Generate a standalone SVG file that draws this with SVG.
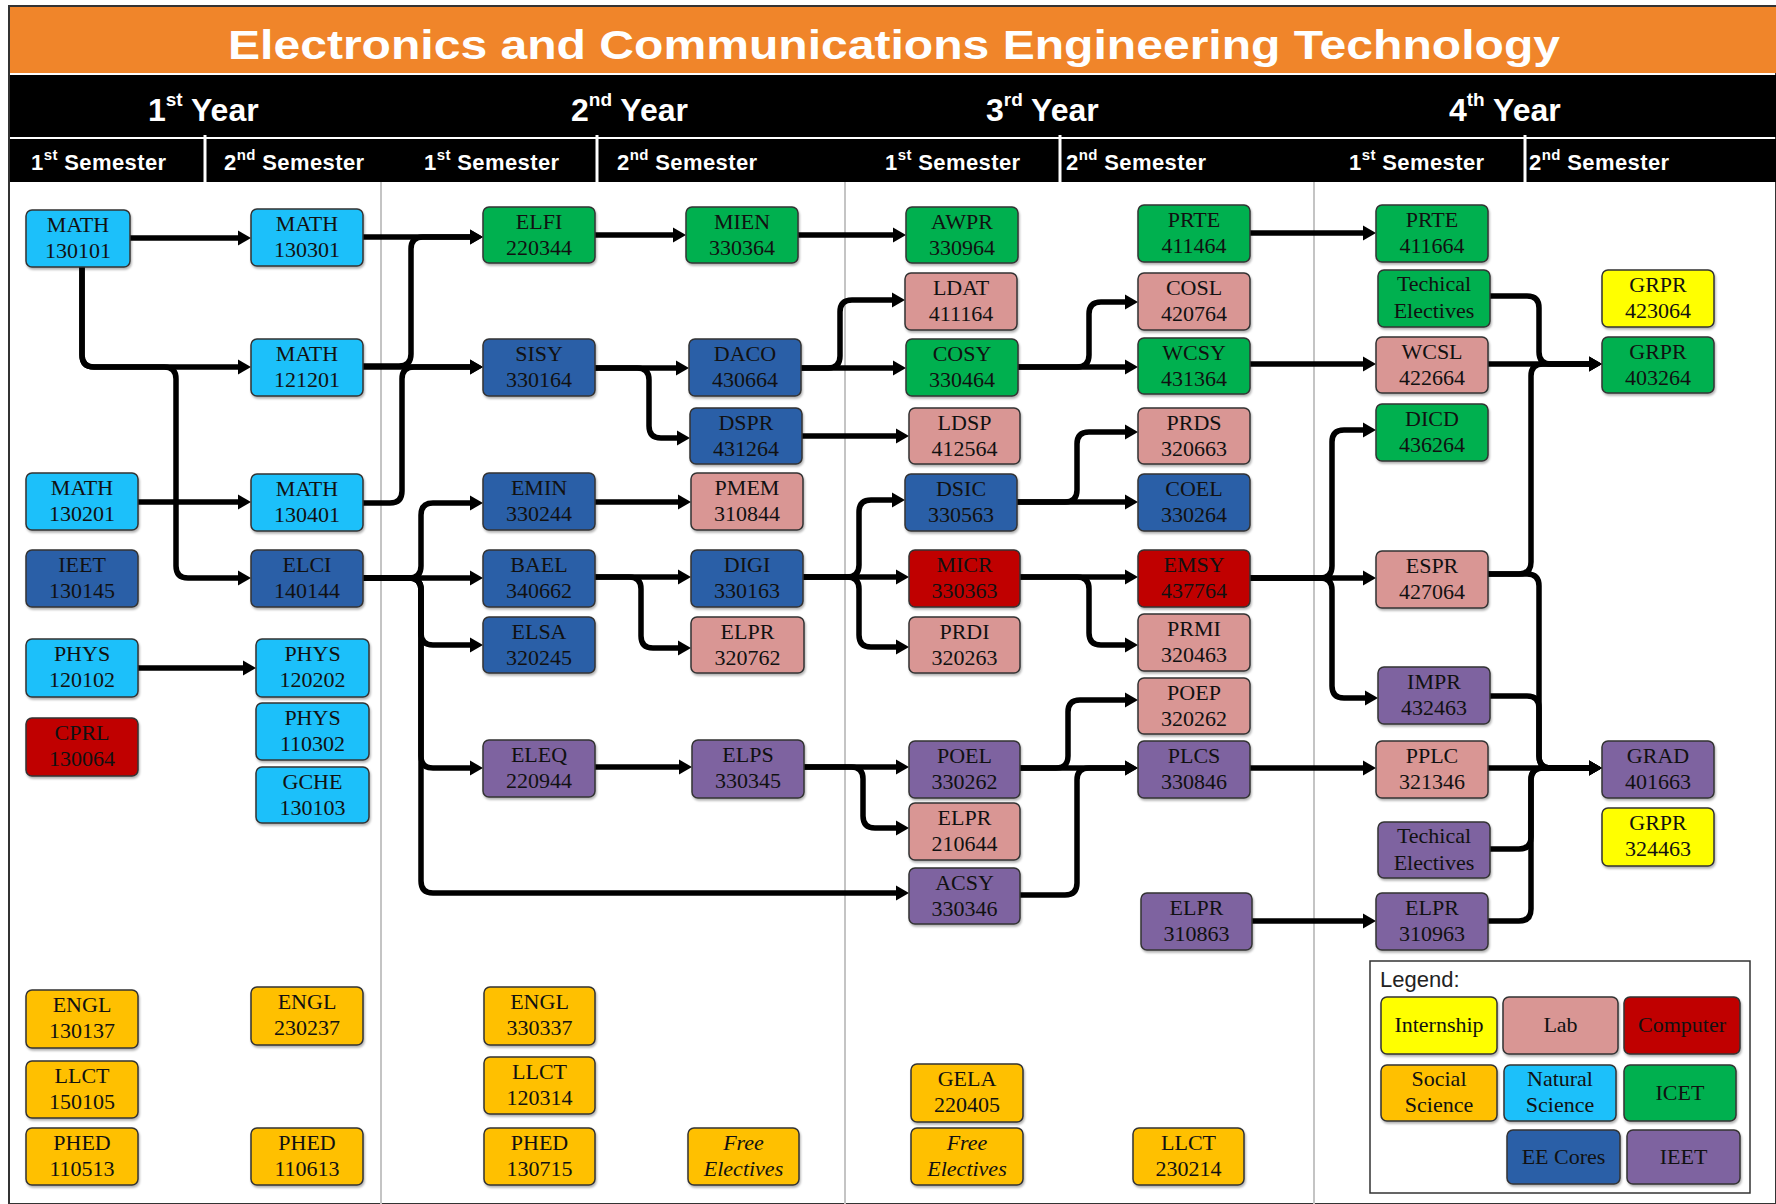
<svg xmlns="http://www.w3.org/2000/svg" width="1776" height="1204" viewBox="0 0 1776 1204">
<defs>
<style>
.node rect{stroke:#333;stroke-width:1.5;filter:url(#sh)}
.ns{fill:#1CC0FA}.ic{fill:#00B050}.ee{fill:#2B5EA7}.ie{fill:#7E64A0}.lb{fill:#D99694}.cp{fill:#C00000}.in{fill:#FFFF00}.ss{fill:#FFC000}
.node text,.leg text{font-family:"Liberation Serif","Times New Roman",serif;font-size:22px;fill:#111;text-anchor:middle}
.it{font-style:italic}
.conn path{fill:none;stroke:#000;stroke-width:5.5;stroke-linejoin:round;marker-end:url(#arr)}
.yr{font-family:"Liberation Sans",Arial,sans-serif;font-size:32px;font-weight:bold;fill:#fff}
.sem{font-family:"Liberation Sans",Arial,sans-serif;font-size:22px;font-weight:bold;fill:#fff;letter-spacing:0.4px}
</style>
<filter id="sh" x="-10%" y="-10%" width="130%" height="140%"><feDropShadow dx="1" dy="2" stdDeviation="1" flood-color="#000" flood-opacity="0.3"/></filter>
<marker id="arr" markerUnits="userSpaceOnUse" markerWidth="14" markerHeight="16" refX="5" refY="8" orient="auto"><path d="M0,0.5 L13,8 L0,15.5 z" fill="#000"/></marker>
</defs>
<rect x="0" y="0" width="1776" height="1204" fill="#fff"/>
<!-- header -->
<g id="header">
<rect x="9" y="6" width="1767" height="1198" fill="none" stroke="#333" stroke-width="2"/>
<rect x="10" y="7" width="1766" height="66" fill="#F0852A"/>
<text x="894" y="59" text-anchor="middle" textLength="1332" lengthAdjust="spacingAndGlyphs" font-family="'Liberation Sans',Arial,sans-serif" font-size="40" font-weight="bold" fill="#fff">Electronics and Communications Engineering Technology</text>
<rect x="10" y="75" width="1766" height="62" fill="#000"/>
<rect x="10" y="139" width="1766" height="43" fill="#000"/>
<g stroke="#fff" stroke-width="3">
<line x1="205" y1="135" x2="205" y2="182"/><line x1="597" y1="135" x2="597" y2="182"/><line x1="1060" y1="135" x2="1060" y2="182"/><line x1="1525" y1="135" x2="1525" y2="182"/>
</g>
<text class="yr" x="148" y="121">1<tspan font-size="19" dy="-15">st</tspan><tspan dy="15"> Year</tspan></text>
<text class="yr" x="571" y="121">2<tspan font-size="19" dy="-15">nd</tspan><tspan dy="15"> Year</tspan></text>
<text class="yr" x="986" y="121">3<tspan font-size="19" dy="-15">rd</tspan><tspan dy="15"> Year</tspan></text>
<text class="yr" x="1449" y="121">4<tspan font-size="19" dy="-15">th</tspan><tspan dy="15"> Year</tspan></text>
<text class="sem" x="31" y="170">1<tspan font-size="15" dy="-10">st</tspan><tspan dy="10"> Semester</tspan></text>
<text class="sem" x="224" y="170">2<tspan font-size="15" dy="-10">nd</tspan><tspan dy="10"> Semester</tspan></text>
<text class="sem" x="424" y="170">1<tspan font-size="15" dy="-10">st</tspan><tspan dy="10"> Semester</tspan></text>
<text class="sem" x="617" y="170">2<tspan font-size="15" dy="-10">nd</tspan><tspan dy="10"> Semester</tspan></text>
<text class="sem" x="885" y="170">1<tspan font-size="15" dy="-10">st</tspan><tspan dy="10"> Semester</tspan></text>
<text class="sem" x="1066" y="170">2<tspan font-size="15" dy="-10">nd</tspan><tspan dy="10"> Semester</tspan></text>
<text class="sem" x="1349" y="170">1<tspan font-size="15" dy="-10">st</tspan><tspan dy="10"> Semester</tspan></text>
<text class="sem" x="1529" y="170">2<tspan font-size="15" dy="-10">nd</tspan><tspan dy="10"> Semester</tspan></text>
</g>
<g id="grid" stroke="#C4C4C4" stroke-width="2">
<line x1="381" y1="182" x2="381" y2="1204"/><line x1="845" y1="182" x2="845" y2="1204"/><line x1="1314" y1="182" x2="1314" y2="1204"/>
</g>

<!-- connectors -->
<g id="connectors" class="conn">
<path d="M130,238 H243"/>
<path d="M82,267 V355 Q82,367 94,367 H243"/>
<path d="M82,267 V355 Q82,367 94,367 H164 Q176,367 176,379 V566 Q176,578 188,578 H243"/>
<path d="M363,237 H475"/>
<path d="M363,366 H399 Q411,366 411,354 V249 Q411,237 423,237 H475"/>
<path d="M363,367 H475"/>
<path d="M138,502 H243"/>
<path d="M363,503 H390 Q402,503 402,491 V379 Q402,367 414,367 H475"/>
<path d="M363,578 H475"/>
<path d="M363,578 H409 Q421,578 421,566 V515 Q421,503 433,503 H475"/>
<path d="M363,578 H409 Q421,578 421,590 V633 Q421,645 433,645 H475"/>
<path d="M363,578 H409 Q421,578 421,590 V756 Q421,768 433,768 H475"/>
<path d="M363,578 H409 Q421,578 421,590 V881 Q421,893 433,893 H901"/>
<path d="M138,668 H248"/>
<path d="M595,235 H678"/>
<path d="M798,235 H898"/>
<path d="M595,368 H681"/>
<path d="M595,368 H637 Q649,368 649,380 V426 Q649,438 661,438 H682"/>
<path d="M801,368 H898"/>
<path d="M801,368 H828 Q840,368 840,356 V312 Q840,300 852,300 H897"/>
<path d="M802,436 H901"/>
<path d="M595,502 H683"/>
<path d="M595,577 H683"/>
<path d="M595,577 H629 Q641,577 641,589 V636 Q641,648 653,648 H683"/>
<path d="M803,577 H901"/>
<path d="M803,577 H847 Q859,577 859,565 V512 Q859,500 871,500 H897"/>
<path d="M803,577 H847 Q859,577 859,589 V635 Q859,647 871,647 H901"/>
<path d="M595,767 H684"/>
<path d="M804,767 H901"/>
<path d="M804,767 H851 Q863,767 863,779 V816 Q863,828 875,828 H901"/>
<path d="M1018,367 H1130"/>
<path d="M1018,367 H1077 Q1089,367 1089,355 V314 Q1089,302 1101,302 H1130"/>
<path d="M1017,502 H1130"/>
<path d="M1017,502 H1065 Q1077,502 1077,490 V444 Q1077,432 1089,432 H1130"/>
<path d="M1020,577 H1130"/>
<path d="M1020,577 H1077 Q1089,577 1089,589 V633 Q1089,645 1101,645 H1130"/>
<path d="M1020,768 H1130"/>
<path d="M1020,768 H1056 Q1068,768 1068,756 V712 Q1068,700 1080,700 H1130"/>
<path d="M1020,895 H1065 Q1077,895 1077,883 V780 Q1077,768 1089,768 H1130"/>
<path d="M1250,233 H1368"/>
<path d="M1250,364 H1368"/>
<path d="M1250,578 H1368"/>
<path d="M1250,578 H1320 Q1332,578 1332,566 V442 Q1332,430 1344,430 H1368"/>
<path d="M1250,578 H1320 Q1332,578 1332,590 V686 Q1332,698 1344,698 H1370"/>
<path d="M1250,768 H1368"/>
<path d="M1252,921 H1368"/>
<path d="M1488,364 H1594"/>
<path d="M1490,296 H1527 Q1539,296 1539,308 V352 Q1539,364 1551,364 H1594"/>
<path d="M1488,574 H1519 Q1531,574 1531,562 V376 Q1531,364 1543,364 H1594"/>
<path d="M1488,574 H1527 Q1539,574 1539,586 V756 Q1539,768 1551,768 H1594"/>
<path d="M1490,696 H1527 Q1539,696 1539,708 V756 Q1539,768 1551,768 H1594"/>
<path d="M1488,768 H1594"/>
<path d="M1490,849 H1519 Q1531,849 1531,837 V780 Q1531,768 1543,768 H1594"/>
<path d="M1488,921 H1519 Q1531,921 1531,909 V780 Q1531,768 1543,768 H1594"/>
</g>

<!-- Year 1 Semester 1 -->
<g id="math130101" class="node"><rect class="ns" x="26" y="210" width="104" height="57" rx="6"/><text x="78" y="232">MATH</text><text x="78" y="258">130101</text></g>
<g id="math130201" class="node"><rect class="ns" x="26" y="473" width="112" height="57" rx="6"/><text x="82" y="495">MATH</text><text x="82" y="521">130201</text></g>
<g id="ieet130145" class="node"><rect class="ee" x="26" y="550" width="112" height="57" rx="6"/><text x="82" y="572">IEET</text><text x="82" y="598">130145</text></g>
<g id="phys120102" class="node"><rect class="ns" x="26" y="639" width="112" height="58" rx="6"/><text x="82" y="661">PHYS</text><text x="82" y="687">120102</text></g>
<g id="cprl130064" class="node"><rect class="cp" x="26" y="718" width="112" height="58" rx="6"/><text x="82" y="740">CPRL</text><text x="82" y="766">130064</text></g>
<g id="engl130137" class="node"><rect class="ss" x="26" y="990" width="112" height="58" rx="6"/><text x="82" y="1012">ENGL</text><text x="82" y="1038">130137</text></g>
<g id="llct150105" class="node"><rect class="ss" x="26" y="1061" width="112" height="57" rx="6"/><text x="82" y="1083">LLCT</text><text x="82" y="1109">150105</text></g>
<g id="phed110513" class="node"><rect class="ss" x="26" y="1128" width="112" height="57" rx="6"/><text x="82" y="1150">PHED</text><text x="82" y="1176">110513</text></g>

<!-- Year 1 Semester 2 -->
<g id="math130301" class="node"><rect class="ns" x="251" y="209" width="112" height="57" rx="6"/><text x="307" y="231">MATH</text><text x="307" y="257">130301</text></g>
<g id="math121201" class="node"><rect class="ns" x="251" y="339" width="112" height="57" rx="6"/><text x="307" y="361">MATH</text><text x="307" y="387">121201</text></g>
<g id="math130401" class="node"><rect class="ns" x="251" y="474" width="112" height="57" rx="6"/><text x="307" y="496">MATH</text><text x="307" y="522">130401</text></g>
<g id="elci140144" class="node"><rect class="ee" x="251" y="550" width="112" height="57" rx="6"/><text x="307" y="572">ELCI</text><text x="307" y="598">140144</text></g>
<g id="phys120202" class="node"><rect class="ns" x="256" y="639" width="113" height="58" rx="6"/><text x="312.5" y="661">PHYS</text><text x="312.5" y="687">120202</text></g>
<g id="phys110302" class="node"><rect class="ns" x="256" y="703" width="113" height="57" rx="6"/><text x="312.5" y="725">PHYS</text><text x="312.5" y="751">110302</text></g>
<g id="gche130103" class="node"><rect class="ns" x="256" y="767" width="113" height="56" rx="6"/><text x="312.5" y="789">GCHE</text><text x="312.5" y="815">130103</text></g>
<g id="engl230237" class="node"><rect class="ss" x="251" y="987" width="112" height="58" rx="6"/><text x="307" y="1009">ENGL</text><text x="307" y="1035">230237</text></g>
<g id="phed110613" class="node"><rect class="ss" x="251" y="1128" width="112" height="57" rx="6"/><text x="307" y="1150">PHED</text><text x="307" y="1176">110613</text></g>

<!-- Year 2 Semester 1 -->
<g id="elfi220344" class="node"><rect class="ic" x="483" y="207" width="112" height="56" rx="6"/><text x="539" y="229">ELFI</text><text x="539" y="255">220344</text></g>
<g id="sisy330164" class="node"><rect class="ee" x="483" y="339" width="112" height="57" rx="6"/><text x="539" y="361">SISY</text><text x="539" y="387">330164</text></g>
<g id="emin330244" class="node"><rect class="ee" x="483" y="473" width="112" height="57" rx="6"/><text x="539" y="495">EMIN</text><text x="539" y="521">330244</text></g>
<g id="bael340662" class="node"><rect class="ee" x="483" y="550" width="112" height="57" rx="6"/><text x="539" y="572">BAEL</text><text x="539" y="598">340662</text></g>
<g id="elsa320245" class="node"><rect class="ee" x="483" y="617" width="112" height="56" rx="6"/><text x="539" y="639">ELSA</text><text x="539" y="665">320245</text></g>
<g id="eleq220944" class="node"><rect class="ie" x="483" y="740" width="112" height="57" rx="6"/><text x="539" y="762">ELEQ</text><text x="539" y="788">220944</text></g>
<g id="engl330337" class="node"><rect class="ss" x="484" y="987" width="111" height="58" rx="6"/><text x="539.5" y="1009">ENGL</text><text x="539.5" y="1035">330337</text></g>
<g id="llct120314" class="node"><rect class="ss" x="484" y="1057" width="111" height="57" rx="6"/><text x="539.5" y="1079">LLCT</text><text x="539.5" y="1105">120314</text></g>
<g id="phed130715" class="node"><rect class="ss" x="484" y="1128" width="111" height="57" rx="6"/><text x="539.5" y="1150">PHED</text><text x="539.5" y="1176">130715</text></g>

<!-- Year 2 Semester 2 -->
<g id="mien330364" class="node"><rect class="ic" x="686" y="207" width="112" height="56" rx="6"/><text x="742" y="229">MIEN</text><text x="742" y="255">330364</text></g>
<g id="daco430664" class="node"><rect class="ee" x="689" y="339" width="112" height="57" rx="6"/><text x="745" y="361">DACO</text><text x="745" y="387">430664</text></g>
<g id="dspr431264" class="node"><rect class="ee" x="690" y="408" width="112" height="56" rx="6"/><text x="746" y="430">DSPR</text><text x="746" y="456">431264</text></g>
<g id="pmem310844" class="node"><rect class="lb" x="691" y="473" width="112" height="57" rx="6"/><text x="747" y="495">PMEM</text><text x="747" y="521">310844</text></g>
<g id="digi330163" class="node"><rect class="ee" x="691" y="550" width="112" height="57" rx="6"/><text x="747" y="572">DIGI</text><text x="747" y="598">330163</text></g>
<g id="elpr320762" class="node"><rect class="lb" x="691" y="617" width="113" height="56" rx="6"/><text x="747.5" y="639">ELPR</text><text x="747.5" y="665">320762</text></g>
<g id="elps330345" class="node"><rect class="ie" x="692" y="740" width="112" height="58" rx="6"/><text x="748" y="762">ELPS</text><text x="748" y="788">330345</text></g>
<g id="free1" class="node"><rect class="ss" x="688" y="1128" width="111" height="57" rx="6"/><text class="it" x="743.5" y="1150">Free</text><text class="it" x="743.5" y="1176">Electives</text></g>

<!-- Year 3 Semester 1 -->
<g id="awpr330964" class="node"><rect class="ic" x="906" y="207" width="112" height="56" rx="6"/><text x="962" y="229">AWPR</text><text x="962" y="255">330964</text></g>
<g id="ldat411164" class="node"><rect class="lb" x="905" y="273" width="112" height="57" rx="6"/><text x="961" y="295">LDAT</text><text x="961" y="321">411164</text></g>
<g id="cosy330464" class="node"><rect class="ic" x="906" y="339" width="112" height="57" rx="6"/><text x="962" y="361">COSY</text><text x="962" y="387">330464</text></g>
<g id="ldsp412564" class="node"><rect class="lb" x="909" y="408" width="111" height="56" rx="6"/><text x="964.5" y="430">LDSP</text><text x="964.5" y="456">412564</text></g>
<g id="dsic330563" class="node"><rect class="ee" x="905" y="474" width="112" height="57" rx="6"/><text x="961" y="496">DSIC</text><text x="961" y="522">330563</text></g>
<g id="micr330363" class="node"><rect class="cp" x="909" y="550" width="111" height="57" rx="6"/><text x="964.5" y="572">MICR</text><text x="964.5" y="598">330363</text></g>
<g id="prdi320263" class="node"><rect class="lb" x="909" y="617" width="111" height="56" rx="6"/><text x="964.5" y="639">PRDI</text><text x="964.5" y="665">320263</text></g>
<g id="poel330262" class="node"><rect class="ie" x="909" y="741" width="111" height="57" rx="6"/><text x="964.5" y="763">POEL</text><text x="964.5" y="789">330262</text></g>
<g id="elpr210644" class="node"><rect class="lb" x="909" y="803" width="111" height="57" rx="6"/><text x="964.5" y="825">ELPR</text><text x="964.5" y="851">210644</text></g>
<g id="acsy330346" class="node"><rect class="ie" x="909" y="868" width="111" height="56" rx="6"/><text x="964.5" y="890">ACSY</text><text x="964.5" y="916">330346</text></g>
<g id="gela220405" class="node"><rect class="ss" x="911" y="1064" width="112" height="58" rx="6"/><text x="967" y="1086">GELA</text><text x="967" y="1112">220405</text></g>
<g id="free2" class="node"><rect class="ss" x="911" y="1128" width="112" height="57" rx="6"/><text class="it" x="967" y="1150">Free</text><text class="it" x="967" y="1176">Electives</text></g>

<!-- Year 3 Semester 2 -->
<g id="prte411464" class="node"><rect class="ic" x="1138" y="205" width="112" height="57" rx="6"/><text x="1194" y="227">PRTE</text><text x="1194" y="253">411464</text></g>
<g id="cosl420764" class="node"><rect class="lb" x="1138" y="273" width="112" height="57" rx="6"/><text x="1194" y="295">COSL</text><text x="1194" y="321">420764</text></g>
<g id="wcsy431364" class="node"><rect class="ic" x="1138" y="338" width="112" height="56" rx="6"/><text x="1194" y="360">WCSY</text><text x="1194" y="386">431364</text></g>
<g id="prds320663" class="node"><rect class="lb" x="1138" y="408" width="112" height="56" rx="6"/><text x="1194" y="430">PRDS</text><text x="1194" y="456">320663</text></g>
<g id="coel330264" class="node"><rect class="ee" x="1138" y="474" width="112" height="57" rx="6"/><text x="1194" y="496">COEL</text><text x="1194" y="522">330264</text></g>
<g id="emsy437764" class="node"><rect class="cp" x="1138" y="550" width="112" height="57" rx="6"/><text x="1194" y="572">EMSY</text><text x="1194" y="598">437764</text></g>
<g id="prmi320463" class="node"><rect class="lb" x="1138" y="614" width="112" height="57" rx="6"/><text x="1194" y="636">PRMI</text><text x="1194" y="662">320463</text></g>
<g id="poep320262" class="node"><rect class="lb" x="1138" y="678" width="112" height="56" rx="6"/><text x="1194" y="700">POEP</text><text x="1194" y="726">320262</text></g>
<g id="plcs330846" class="node"><rect class="ie" x="1138" y="741" width="112" height="57" rx="6"/><text x="1194" y="763">PLCS</text><text x="1194" y="789">330846</text></g>
<g id="elpr310863" class="node"><rect class="ie" x="1141" y="893" width="111" height="57" rx="6"/><text x="1196.5" y="915">ELPR</text><text x="1196.5" y="941">310863</text></g>
<g id="llct230214" class="node"><rect class="ss" x="1133" y="1128" width="111" height="57" rx="6"/><text x="1188.5" y="1150">LLCT</text><text x="1188.5" y="1176">230214</text></g>

<!-- Year 4 Semester 1 -->
<g id="prte411664" class="node"><rect class="ic" x="1376" y="205" width="112" height="57" rx="6"/><text x="1432" y="227">PRTE</text><text x="1432" y="253">411664</text></g>
<g id="techel1" class="node"><rect class="ic" x="1378" y="270" width="112" height="57" rx="6"/><text x="1434" y="291">Techical</text><text x="1434" y="318">Electives</text></g>
<g id="wcsl422664" class="node"><rect class="lb" x="1376" y="337" width="112" height="56" rx="6"/><text x="1432" y="359">WCSL</text><text x="1432" y="385">422664</text></g>
<g id="dicd436264" class="node"><rect class="ic" x="1376" y="404" width="112" height="57" rx="6"/><text x="1432" y="426">DICD</text><text x="1432" y="452">436264</text></g>
<g id="espr427064" class="node"><rect class="lb" x="1376" y="551" width="112" height="57" rx="6"/><text x="1432" y="573">ESPR</text><text x="1432" y="599">427064</text></g>
<g id="impr432463" class="node"><rect class="ie" x="1378" y="667" width="112" height="57" rx="6"/><text x="1434" y="689">IMPR</text><text x="1434" y="715">432463</text></g>
<g id="pplc321346" class="node"><rect class="lb" x="1376" y="741" width="112" height="57" rx="6"/><text x="1432" y="763">PPLC</text><text x="1432" y="789">321346</text></g>
<g id="techel2" class="node"><rect class="ie" x="1378" y="822" width="112" height="56" rx="6"/><text x="1434" y="843">Techical</text><text x="1434" y="870">Electives</text></g>
<g id="elpr310963" class="node"><rect class="ie" x="1376" y="893" width="112" height="57" rx="6"/><text x="1432" y="915">ELPR</text><text x="1432" y="941">310963</text></g>

<!-- Year 4 Semester 2 -->
<g id="grpr423064" class="node"><rect class="in" x="1602" y="270" width="112" height="57" rx="6"/><text x="1658" y="292">GRPR</text><text x="1658" y="318">423064</text></g>
<g id="grpr403264" class="node"><rect class="ic" x="1602" y="337" width="112" height="56" rx="6"/><text x="1658" y="359">GRPR</text><text x="1658" y="385">403264</text></g>
<g id="grad401663" class="node"><rect class="ie" x="1602" y="741" width="112" height="57" rx="6"/><text x="1658" y="763">GRAD</text><text x="1658" y="789">401663</text></g>
<g id="grpr324463" class="node"><rect class="in" x="1602" y="808" width="112" height="58" rx="6"/><text x="1658" y="830">GRPR</text><text x="1658" y="856">324463</text></g>

<!-- Legend -->
<g id="legend" class="leg">
<rect x="1370" y="961" width="380" height="232" fill="#fff" stroke="#333" stroke-width="1.5"/>
<text x="1380" y="987" style="font-family:'Liberation Sans',Arial,sans-serif;font-size:22px;text-anchor:start;fill:#222">Legend:</text>
<g class="node"><rect class="in" x="1381" y="997" width="116" height="57" rx="6"/><text x="1439" y="1032">Internship</text></g>
<g class="node"><rect class="lb" x="1503" y="997" width="115" height="57" rx="6"/><text x="1560.5" y="1032">Lab</text></g>
<g class="node"><rect class="cp" x="1624" y="997" width="116" height="57" rx="6"/><text x="1682" y="1032">Computer</text></g>
<g class="node"><rect class="ss" x="1381" y="1065" width="116" height="56" rx="6"/><text x="1439" y="1086">Social</text><text x="1439" y="1112">Science</text></g>
<g class="node"><rect class="ns" x="1504" y="1065" width="112" height="56" rx="6"/><text x="1560" y="1086">Natural</text><text x="1560" y="1112">Science</text></g>
<g class="node"><rect class="ic" x="1624" y="1065" width="112" height="56" rx="6"/><text x="1680" y="1100">ICET</text></g>
<g class="node"><rect class="ee" x="1507" y="1130" width="113" height="54" rx="6"/><text x="1563.5" y="1164">EE Cores</text></g>
<g class="node"><rect class="ie" x="1627" y="1130" width="113" height="54" rx="6"/><text x="1683.5" y="1164">IEET</text></g>
</g>
</svg>
